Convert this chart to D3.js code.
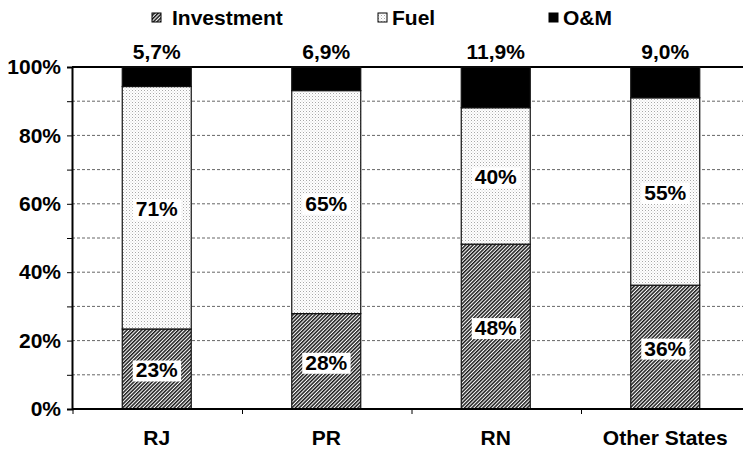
<!DOCTYPE html>
<html>
<head>
<meta charset="utf-8">
<script src="https://cdn.jsdelivr.net/npm/d3@7"></script>
<style>
  body { margin: 0; background: #fff; }
  text { font-family: "Liberation Sans", Arial, sans-serif; font-weight: bold; }
</style>
</head>
<body>
<svg id="chart"></svg>
<script>
const categories = ['RJ', 'PR', 'RN', 'Other States'];
const investment = [23.4, 27.9, 48.2, 36.2];
const fuel = [70.9, 65.2, 39.9, 54.8];
const om = [5.7, 6.9, 11.9, 9.0];
const seriesNames = ['Investment', 'Fuel', 'O&M'];
const yTicks = [0, 10, 20, 30, 40, 50, 60, 70, 80, 90, 100];
const yLabels = [0, 20, 40, 60, 80, 100];

const width = 743, height = 450;
const margin = {top: 67, right: -7, bottom: 41, left: 72};

const svg = d3.select('#chart')
  .attr('width', width)
  .attr('height', height);

// patterns
const defs = svg.append('defs');
const hatch = defs.append('pattern')
  .attr('id', 'hatch')
  .attr('patternUnits', 'userSpaceOnUse')
  .attr('width', 2.6).attr('height', 2.6)
  .attr('patternTransform', 'rotate(45)');
hatch.append('rect').attr('width', 2.6).attr('height', 2.6).attr('fill', '#fff');
hatch.append('rect').attr('width', 1.5).attr('height', 2.6).attr('fill', '#1a1a1a');

const dots = defs.append('pattern')
  .attr('id', 'dots')
  .attr('patternUnits', 'userSpaceOnUse')
  .attr('width', 3).attr('height', 3);
dots.append('rect').attr('width', 3).attr('height', 3).attr('fill', '#fff');
dots.append('rect').attr('width', 1).attr('height', 1).attr('fill', '#a8a8a8');
dots.append('rect').attr('x', 1.5).attr('y', 1.5).attr('width', 1).attr('height', 1).attr('fill', '#d0d0d0');

const fills = ['url(#hatch)', 'url(#dots)', '#000'];

const x = d3.scaleBand()
  .domain(categories)
  .range([margin.left, width - margin.right])
  .paddingInner(0.593)
  .paddingOuter(0.2965);

const y = d3.scaleLinear()
  .domain([0, 100])
  .range([height - margin.bottom, margin.top]);

// gridlines
svg.append('g')
  .selectAll('line')
  .data(yTicks.filter(d => d > 0 && d < 100))
  .enter().append('line')
  .attr('x1', margin.left).attr('x2', width - margin.right)
  .attr('y1', d => y(d)).attr('y2', d => y(d))
  .attr('stroke', '#666')
  .attr('stroke-width', 1)
  .attr('stroke-dasharray', '3,2');

// top border
svg.append('line')
  .attr('x1', margin.left).attr('x2', width - margin.right)
  .attr('y1', y(100)).attr('y2', y(100))
  .attr('stroke', '#000').attr('stroke-width', 2);

// stacked data
const rows = categories.map((c, i) => ({cat: c, Investment: investment[i], Fuel: fuel[i], 'O&M': om[i]}));
const stack = d3.stack().keys(seriesNames)(rows);

const layers = svg.append('g')
  .selectAll('g')
  .data(stack)
  .enter().append('g')
  .attr('fill', (d, i) => fills[i]);

layers.selectAll('rect')
  .data(d => d)
  .enter().append('rect')
  .attr('x', d => x(d.data.cat))
  .attr('width', x.bandwidth())
  .attr('y', d => y(d[1]))
  .attr('height', d => y(d[0]) - y(d[1]))
  .attr('stroke', '#111')
  .attr('stroke-width', 1.2);

// y axis
const yAxis = svg.append('g')
  .attr('transform', `translate(${margin.left},0)`)
  .call(d3.axisLeft(y).tickValues(yTicks).tickSize(5)
    .tickFormat(d => yLabels.includes(d) ? d + '%' : ''));
yAxis.select('.domain').attr('stroke-width', 2).attr('stroke', '#000');
yAxis.selectAll('.tick line').attr('stroke', '#000');
yAxis.selectAll('.tick text')
  .attr('x', -11)
  .style('font-size', '21px')
  .style('font-family', '"Liberation Sans", Arial, sans-serif')
  .style('font-weight', 'bold')
  .attr('fill', '#000');

// x axis
svg.append('line')
  .attr('x1', margin.left).attr('x2', width - margin.right)
  .attr('y1', y(0)).attr('y2', y(0))
  .attr('stroke', '#000').attr('stroke-width', 2);

const step = x.step();
svg.append('g')
  .selectAll('line')
  .data(categories)
  .enter().append('line')
  .attr('x1', d => x(d) - step * x.paddingOuter() + 1)
  .attr('x2', d => x(d) - step * x.paddingOuter() + 1)
  .attr('y1', y(0)).attr('y2', y(0) + 5)
  .attr('stroke', '#000');

svg.append('g')
  .selectAll('text')
  .data(categories)
  .enter().append('text')
  .attr('x', d => x(d) + x.bandwidth() / 2)
  .attr('y', y(0) + 36)
  .attr('text-anchor', 'middle')
  .style('font-size', '21px')
  .text(d => d);

// segment labels with white boxes
function addLabel(g, cx, cy, txt) {
  const t = g.append('text')
    .attr('x', cx).attr('y', cy)
    .attr('text-anchor', 'middle')
    .attr('dominant-baseline', 'central')
    .style('font-size', '21px')
    .text(txt);
  const bb = t.node().getBBox();
  g.insert('rect', 'text')
    .attr('x', bb.x - 3).attr('y', bb.y + 2)
    .attr('width', bb.width + 6).attr('height', bb.height - 2)
    .attr('fill', '#fff');
}

const labelG = svg.append('g');
stack.slice(0, 2).forEach(layer => {
  layer.forEach(d => {
    const g = labelG.append('g');
    addLabel(g, x(d.data.cat) + x.bandwidth() / 2, (y(d[0]) + y(d[1])) / 2 + 1,
      Math.round(d[1] - d[0]) + '%');
  });
});

// O&M labels above bars
svg.append('g')
  .selectAll('text')
  .data(rows)
  .enter().append('text')
  .attr('x', d => x(d.cat) + x.bandwidth() / 2)
  .attr('y', y(100) - 8)
  .attr('text-anchor', 'middle')
  .style('font-size', '21px')
  .text(d => d['O&M'].toFixed(1).replace('.', ',') + '%');

// legend
const legendX = [152, 378, 549];
const legend = svg.append('g')
  .selectAll('g')
  .data(seriesNames)
  .enter().append('g')
  .attr('transform', (d, i) => `translate(${legendX[i]},0)`);
legend.append('rect')
  .attr('x', 0).attr('y', 13)
  .attr('width', 9).attr('height', 9)
  .attr('fill', (d, i) => fills[i])
  .attr('stroke', '#000').attr('stroke-width', 1);
legend.append('text')
  .attr('x', (d, i) => i === 0 ? 20 : 14)
  .attr('y', 25)
  .style('font-size', '21px')
  .text(d => d);
</script>
</body>
</html>
